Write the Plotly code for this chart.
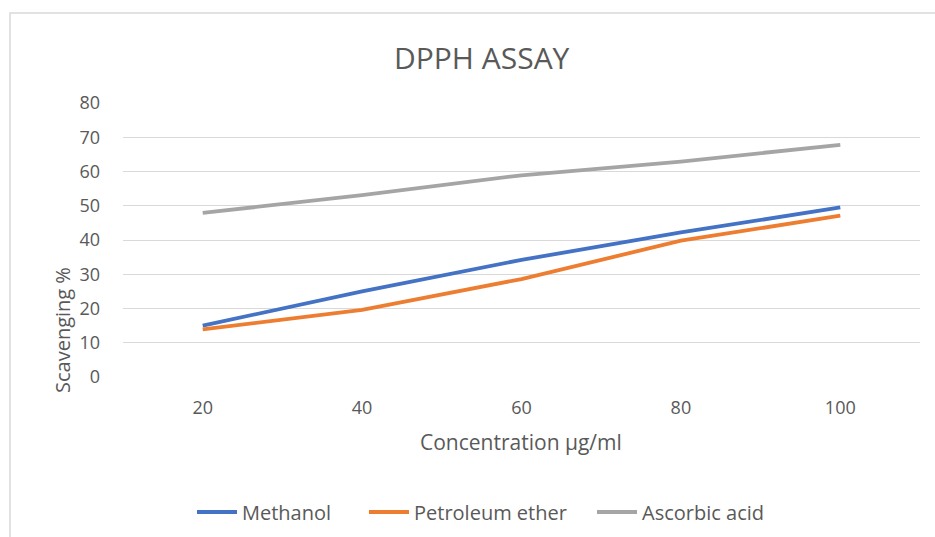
import plotly.graph_objects as go

# Concentration levels (µg/ml) and % DPPH scavenging per extract
concentrations = ["20", "40", "60", "80", "100"]
methanol = [15.0, 25.0, 34.2, 42.2, 49.5]
petroleum_ether = [13.9, 19.6, 28.6, 39.8, 47.1]
ascorbic_acid = [47.9, 53.1, 58.9, 62.9, 67.8]

series = [
    ("Methanol", methanol, "#4472C4"),
    ("Petroleum ether", petroleum_ether, "#ED7D31"),
    ("Ascorbic acid", ascorbic_acid, "#A5A5A5"),
]

FONT = "Open Sans"
TEXT = "#595959"

W, H = 935, 537
L, R, T, B = 123, 15, 103, 160
pw, ph = W - L - R, H - T - B


def px(x):
    return (x - L) / pw


def py(y):
    return (H - B - y) / ph


# each series gets its own legend box so entries can be spaced freely
legend_keys = ["legend", "legend2", "legend3"]
legend_left = [192, 364, 592]

fig = go.Figure()
for (name, values, color), key in zip(series, legend_keys):
    fig.add_trace(go.Scatter(
        x=concentrations, y=values, name=name, mode="lines",
        line=dict(color=color, width=3.8), legend=key,
    ))

legend_layout = {
    key: dict(
        orientation="h", x=px(left), xanchor="left", y=py(512), yanchor="middle",
        font=dict(size=20, color=TEXT), itemwidth=40, bgcolor="rgba(0,0,0,0)",
    )
    for key, left in zip(legend_keys, legend_left)
}

fig.update_layout(
    width=W, height=H,
    margin=dict(l=L, r=R, t=T, b=B, autoexpand=False),
    paper_bgcolor="white", plot_bgcolor="white",
    font=dict(family=FONT, color=TEXT, size=18),
    showlegend=True,
    xaxis=dict(
        type="category", range=[-0.5, 4.5], showgrid=False, zeroline=False,
        showline=False, ticks="", tickfont=dict(size=18, color=TEXT),
        ticklabelstandoff=18,
    ),
    yaxis=dict(
        range=[0, 80], dtick=10, showgrid=True, gridcolor="#D9D9D9", gridwidth=1,
        zeroline=False, showline=False, ticks="",
        tickfont=dict(size=18, color=TEXT), ticklabelstandoff=22,
    ),
    annotations=[
        dict(text="DPPH ASSAY", x=px(482), y=py(57), xref="paper", yref="paper",
             showarrow=False, xanchor="center", yanchor="middle",
             font=dict(size=30, color=TEXT, family=FONT)),
        dict(text="Concentration μg/ml", x=px(521), y=py(442), xref="paper", yref="paper",
             showarrow=False, xanchor="center", yanchor="middle",
             font=dict(size=21, color=TEXT, family=FONT)),
        dict(text="Scavenging %", x=px(62), y=py(330), xref="paper", yref="paper",
             showarrow=False, xanchor="center", yanchor="middle", textangle=-90,
             font=dict(size=20, color=TEXT, family=FONT)),
    ],
    shapes=[
        dict(type="rect", xref="paper", yref="paper",
             x0=px(10), x1=px(960), y0=py(13), y1=py(560),
             line=dict(color="#D9D9D9", width=1.5), layer="below"),
    ],
    **legend_layout,
)

fig.write_html("out.html")
